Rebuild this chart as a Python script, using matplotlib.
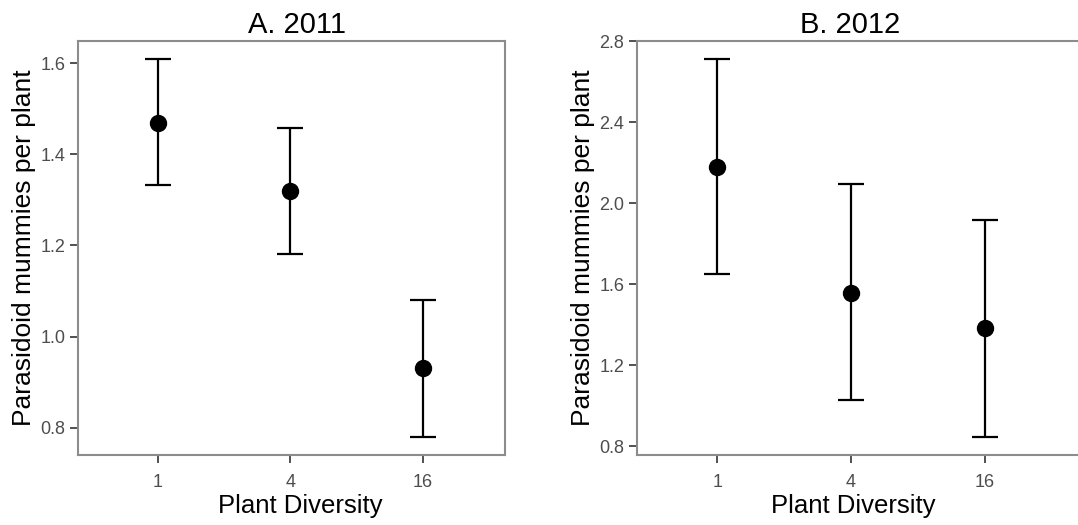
import matplotlib
matplotlib.use("Agg")
import matplotlib.pyplot as plt

plt.rcParams['font.family'] = ['Liberation Sans', 'DejaVu Sans']

diversity = ["1", "4", "16"]

mean_2011 = [1.47, 1.32, 0.93]
upper_2011 = [1.609, 1.459, 1.08]
lower_2011 = [1.332, 1.181, 0.78]

mean_2012 = [2.18, 1.557, 1.384]
upper_2012 = [2.71, 2.095, 1.914]
lower_2012 = [1.65, 1.027, 0.846]

yticks_2011 = [0.8, 1.0, 1.2, 1.4, 1.6]
yticks_2012 = [0.8, 1.2, 1.6, 2.0, 2.4, 2.8]

W, H = 1078, 525
fig = plt.figure(figsize=(W / 100, H / 100), dpi=100)


def box(x0, x1, y0, y1):
    # pixel box -> figure fraction
    return [x0 / W, 1 - y1 / H, (x1 - x0) / W, (y1 - y0) / H]


ax1 = fig.add_axes(box(78, 505, 41, 455))
ax2 = fig.add_axes(box(637, 1092, 41, 455))


def draw(ax, title, means, upper, lower, yticks, ylim, xlim, x0, x1, text_x):
    x = list(range(1, len(diversity) + 1))
    err = [[m - l for m, l in zip(means, lower)], [u - m for m, u in zip(means, upper)]]
    ax.errorbar(x, means, yerr=err, fmt="o", color="black", ecolor="black",
                elinewidth=1.6, capsize=9.7, capthick=1.6, markersize=11.5, zorder=3)
    ax.set_xlim(*xlim)
    ax.set_ylim(*ylim)
    ax.set_xticks(x)
    ax.set_xticklabels(diversity)
    ax.set_yticks(yticks)
    ax.set_yticklabels(["%.1f" % v for v in yticks])
    ax.tick_params(axis="both", direction="out", length=6, width=1.2, color="#333333",
                   labelsize=13, labelcolor="#4D4D4D")
    ax.tick_params(axis="x", pad=7.5)
    ax.tick_params(axis="y", pad=3)
    for s in ax.spines.values():
        s.set_color("#8C8C8C")
        s.set_linewidth(1.5)
    w = x1 - x0
    tx = (text_x - x0) / w
    ax.set_title(title, fontsize=21, pad=5.5, x=tx)
    ax.set_xlabel("Plant Diversity", fontsize=18.5)
    ax.xaxis.set_label_coords(tx + 3 / w, -0.095)
    ax.set_ylabel("Parasidoid mummies per plant", fontsize=19)
    ax.yaxis.set_label_coords(-42 / w, 0.5)


draw(ax1, "A. 2011", mean_2011, upper_2011, lower_2011, yticks_2011,
     (0.74, 1.649), (0.4, 3.62), 78, 505, 297.5)
draw(ax2, "B. 2012", mean_2012, upper_2012, lower_2012, yticks_2012,
     (0.756, 2.8), (0.4, 3.8), 637, 1092, 850)

fig.savefig("out.png", dpi=100)
